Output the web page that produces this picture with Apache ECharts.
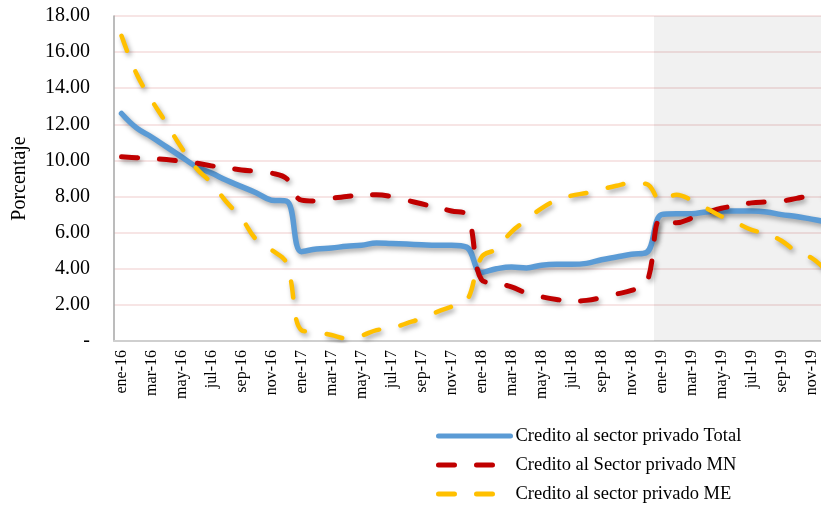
<!DOCTYPE html>
<html>
<head>
<meta charset="utf-8">
<script src="https://cdn.jsdelivr.net/npm/echarts@6/dist/echarts.min.js"></script>
<style>
  html, body { margin: 0; padding: 0; background: #ffffff; }
  #chart { width: 821px; height: 506px; }
</style>
</head>
<body>
<div id="chart"></div>
<script>
// Monthly categories, ene-16 .. dic-19
const monthNames = ['ene', 'feb', 'mar', 'abr', 'may', 'jun', 'jul', 'ago', 'sep', 'oct', 'nov', 'dic'];
const years = ['16', '17', '18', '19'];
const categories = [];
years.forEach(y => monthNames.forEach(m => categories.push(m + '-' + y)));

// Growth rates (%)
const creditoTotal = [
  12.6, 11.8, 11.3, 10.75, 10.2, 9.65, 9.3, 8.9, 8.55, 8.2, 7.8, 7.75,
  4.95, 5.1, 5.15, 5.25, 5.3, 5.43, 5.4, 5.37, 5.33, 5.3, 5.3, 5.2,
  3.8, 4.0, 4.1, 4.05, 4.2, 4.25, 4.25, 4.3, 4.5, 4.65, 4.8, 4.9,
  7.0, 7.05, 7.05, 7.15, 7.2, 7.2, 7.2, 7.15, 7.0, 6.9, 6.75, 6.6
];
const creditoMN = [
  10.2, 10.15, 10.1, 10.05, 9.95, 9.85, 9.7, 9.6, 9.47, 9.4, 9.3, 9.0,
  7.8, 7.75, 7.9, 8.0, 8.1, 8.1, 8.0, 7.8, 7.6, 7.4, 7.2, 7.0,
  3.4, 3.2, 3.0, 2.65, 2.45, 2.3, 2.2, 2.25, 2.4, 2.6, 2.8, 3.2,
  6.8, 6.55, 6.8, 7.1, 7.35, 7.5, 7.65, 7.7, 7.75, 7.9, 8.05, 8.1
];
const creditoME = [
  16.9, 14.8, 13.35, 12.05, 10.7, 9.55, 8.75, 7.7, 6.8, 5.6, 5.05, 4.3,
  0.6, 0.5, 0.33, 0.15, 0.3, 0.6, 0.7, 0.98, 1.25, 1.6, 1.9, 2.2,
  4.65, 5.1, 6.05, 6.7, 7.35, 7.8, 8.05, 8.2, 8.4, 8.6, 8.75, 8.7,
  7.75, 8.1, 7.8, 7.35, 6.9, 6.55, 6.15, 5.95, 5.55, 4.95, 4.6, 3.9
];
// Projected months (shaded band)
const proyectado = categories.map(c => c.endsWith('-19'));

const yMax = 18;
const serif = '"Liberation Serif", "Times New Roman", serif';

const shadow = {
  shadowColor: 'rgba(0,0,0,0.35)',
  shadowBlur: 5,
  shadowOffsetX: 2,
  shadowOffsetY: 3
};

const chart = echarts.init(document.getElementById('chart'), null, { renderer: 'canvas' });
chart.setOption({
  animation: false,
  backgroundColor: '#ffffff',
  // the last month runs past the right edge of the canvas
  grid: { left: 114, top: 16, width: 720, height: 325, containLabel: false, outerBoundsMode: 'none' },
  legend: {
    orient: 'vertical',
    left: 436,
    top: 426,
    padding: 0,
    itemWidth: 72,
    itemHeight: 14,
    itemGap: 9,
    data: ['Credito al sector privado Total', 'Credito al Sector privado MN', 'Credito al sector privado ME'],
    itemStyle: { opacity: 0 },
    lineStyle: { width: 5, shadowBlur: 0, shadowOffsetX: 0, shadowOffsetY: 0 },
    textStyle: { fontFamily: serif, fontSize: 18.5, color: '#000', lineHeight: 20 }
  },
  xAxis: {
    type: 'category',
    data: categories,
    boundaryGap: true,
    axisLine: { lineStyle: { color: '#cfcfcf', width: 2 } },
    axisTick: { show: false },
    axisLabel: {
      interval: 1,
      rotate: 90,
      margin: 9,
      fontFamily: serif,
      fontSize: 16,
      color: '#000'
    },
    splitLine: { show: false }
  },
  yAxis: {
    type: 'value',
    min: 0,
    max: yMax,
    interval: 2,
    name: 'Porcentaje',
    nameLocation: 'middle',
    nameGap: 84,
    nameRotate: 90,
    nameTextStyle: { fontFamily: serif, fontSize: 20, color: '#000' },
    axisLine: { show: true, lineStyle: { color: '#a6a6a6', width: 1.5 } },
    axisTick: { show: false },
    axisLabel: {
      margin: 24,
      fontFamily: serif,
      fontSize: 20,
      color: '#000',
      formatter: v => (v === 0 ? '-' : v.toFixed(2))
    },
    splitLine: { show: true, lineStyle: { color: '#f5dcdc', width: 1.5 } }
  },
  series: [
    {
      name: 'Proyección',
      type: 'bar',
      data: proyectado.map(p => (p ? yMax : '-')),
      barWidth: '100%',
      barCategoryGap: 0,
      itemStyle: { color: 'rgba(0,0,0,0.055)' },
      silent: true,
      z: 1
    },
    {
      name: 'Credito al sector privado Total',
      type: 'line',
      data: creditoTotal,
      smooth: 0.4,
      showSymbol: false,
      symbol: 'none',
      lineStyle: Object.assign({ color: '#5b9bd5', width: 5.5, cap: 'round', join: 'round' }, shadow),
      itemStyle: { color: '#5b9bd5' },
      z: 3
    },
    {
      name: 'Credito al Sector privado MN',
      type: 'line',
      data: creditoMN,
      smooth: 0.4,
      showSymbol: false,
      symbol: 'none',
      lineStyle: Object.assign({ color: '#c00000', width: 5, type: [16, 22], cap: 'round', join: 'round' }, shadow),
      itemStyle: { color: '#c00000' },
      z: 4
    },
    {
      name: 'Credito al sector privado ME',
      type: 'line',
      data: creditoME,
      smooth: 0.4,
      showSymbol: false,
      symbol: 'none',
      lineStyle: Object.assign({ color: '#ffc000', width: 4.5, type: [16, 22], cap: 'round', join: 'round' }, shadow),
      itemStyle: { color: '#ffc000' },
      z: 5
    }
  ]
});
</script>
</body>
</html>
